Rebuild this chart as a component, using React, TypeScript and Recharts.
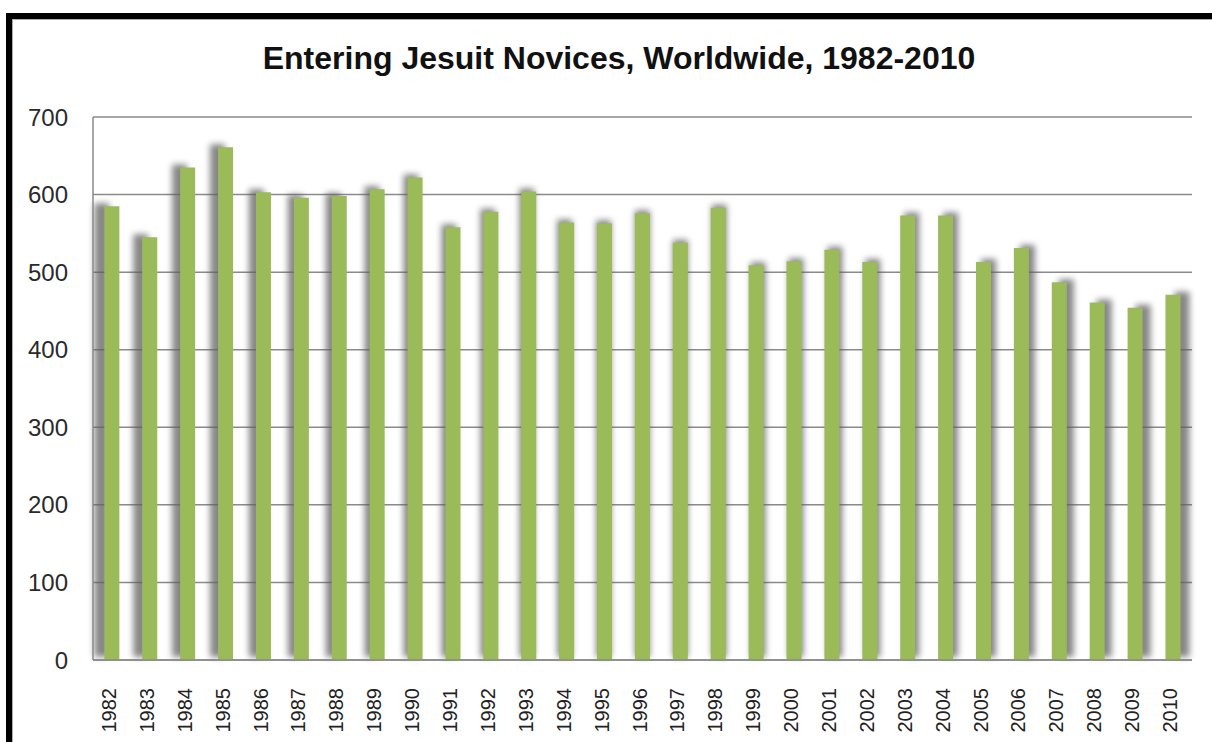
import React from "react";
import { Bar, BarChart, CartesianGrid, Cell, XAxis, YAxis } from "recharts";

const years = [
  "1982", "1983", "1984", "1985", "1986", "1987", "1988", "1989", "1990", "1991",
  "1992", "1993", "1994", "1995", "1996", "1997", "1998", "1999", "2000", "2001",
  "2002", "2003", "2004", "2005", "2006", "2007", "2008", "2009", "2010",
];
const novices = [
  585, 545, 635, 661, 603, 596, 598, 607, 622, 558,
  578, 604, 564, 563, 576, 538, 583, 509, 514, 529,
  513, 573, 573, 513, 531, 487, 461, 454, 471,
];
const yTicks = [0, 100, 200, 300, 400, 500, 600, 700];

const data = years.map((year, i) => ({ year, value: novices[i] }));

const FONT = "'Liberation Sans', Arial, sans-serif";

// excel-style perspective shadow: leans left on the left side, right on the right
const shadowFor = (i: number) => {
  const off = ((i - (years.length - 1) / 2) * 0.65).toFixed(1);
  return `drop-shadow(${off}px -3px 3px rgba(95,95,95,0.75))`;
};

const YearTick = (props: any) => {
  const { x, y, payload } = props;
  return (
    <text
      transform={`translate(${x - 3},${y + 20}) rotate(-90)`}
      textAnchor="end"
      dominantBaseline="central"
      fontSize={20}
      fontFamily={FONT}
      fill="#222"
    >
      {payload.value}
    </text>
  );
};

export default function App() {
  return (
    <div
      style={{
        position: "absolute",
        left: 0,
        top: 0,
        width: 1212,
        height: 742,
        overflow: "hidden",
        background: "#fff",
      }}
    >
      <div
        style={{
          position: "absolute",
          left: 6,
          top: 13,
          width: 1300,
          height: 900,
          border: "6px solid #000",
          boxShadow: "inset 1px 1px 0 #aaa",
          boxSizing: "border-box",
        }}
      />
      <div
        style={{
          position: "absolute",
          left: 0,
          top: 39,
          width: 1238,
          textAlign: "center",
          fontFamily: FONT,
          fontWeight: "bold",
          fontSize: 32,
          lineHeight: "38px",
          color: "#111",
        }}
      >
        Entering Jesuit Novices, Worldwide, 1982-2010
      </div>
      <BarChart
        width={1212}
        height={742}
        data={data}
        margin={{ top: 117, right: 20, left: 0, bottom: 0 }}
        barCategoryGap="30%"
      >
        <CartesianGrid vertical={false} stroke="#8a8a8a" strokeWidth={1.5} />
        <XAxis
          dataKey="year"
          interval={0}
          height={82}
          tickLine={false}
          axisLine={{ stroke: "#8a8a8a", strokeWidth: 1.5 }}
          tick={<YearTick />}
        />
        <YAxis
          width={93}
          domain={[0, 700]}
          ticks={yTicks}
          tickLine={false}
          tickMargin={19}
          axisLine={{ stroke: "#8a8a8a", strokeWidth: 1.5 }}
          tick={{ fontSize: 24, fill: "#2a2a2a", fontFamily: FONT }}
        />
        <Bar dataKey="value" fill="#9BBB59" isAnimationActive={false}>
          {data.map((d, i) => (
            <Cell key={d.year} fill="#9BBB59" style={{ filter: shadowFor(i) }} />
          ))}
        </Bar>
      </BarChart>
    </div>
  );
}
